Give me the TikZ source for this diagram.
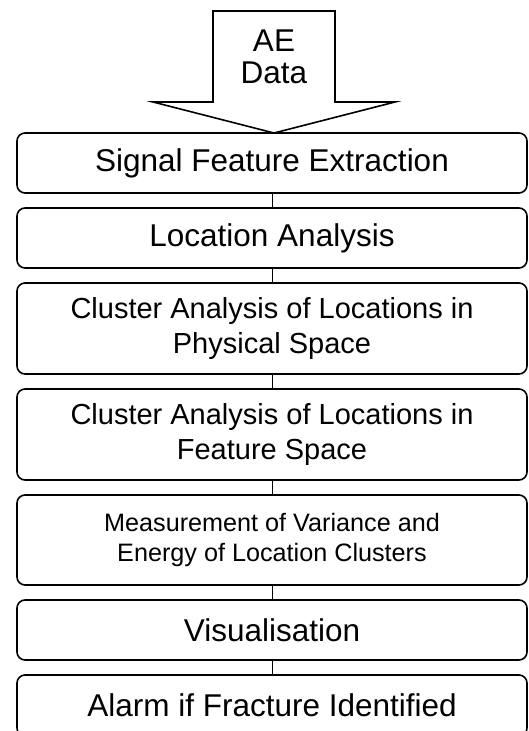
\documentclass[tikz,border=0pt]{standalone}
\usepackage{fontspec}
\setmainfont{Liberation Sans}
\usetikzlibrary{positioning}
\tikzset{>=latex}
\tikzset{
  stage/.style={draw, line width=1.6pt, rounded corners=8pt, minimum width=510pt,
    minimum height=60pt, inner sep=0pt, outer sep=0pt, align=center,
    font=\fontsize{31.5}{37.8}\selectfont},
  stagetall/.style={stage, minimum height=91pt},
  link/.style={line width=1pt}
}

\begin{document}
\begin{tikzpicture}[x=1pt,y=-1pt]
    \useasboundingbox (0,0) rectangle (528,731);

    % input arrow
    \node[align=center, font=\fontsize{31.5}{32}\selectfont] (data) at (274,57) {AE\\Data};

    \node[stage] (sfe) at (272,163) {Signal Feature Extraction};
    \node[stage, below=15pt of sfe] (loc) {Location Analysis};
    \node[stagetall, below=15pt of loc, font=\fontsize{29}{35}\selectfont] (phys)
        {Cluster Analysis of Locations in\\Physical Space};
    \node[stagetall, below=15pt of phys, font=\fontsize{29}{35}\selectfont] (feat)
        {Cluster Analysis of Locations in\\Feature Space};
    \node[stagetall, below=15pt of feat, minimum height=90pt, font=\fontsize{25.2}{30}\selectfont] (var)
        {Measurement of Variance and\\Energy of Location Clusters};
    \node[stage, below=15pt of var] (vis) {Visualisation};
    \node[stage, below=15pt of vis, minimum height=61pt] (alarm) {Alarm if Fracture Identified};

    \draw[line width=1.6pt, line join=miter] (213,11) -- (335,11) -- (335,102) -- (395,102)
        -- (sfe.north -| data) -- (153,102) -- (213,102) -- cycle;

    \foreach \a/\b in {sfe/loc, loc/phys, phys/feat, feat/var, var/vis, vis/alarm}
        \draw[link] (\a) -- (\b);
\end{tikzpicture}
\end{document}
